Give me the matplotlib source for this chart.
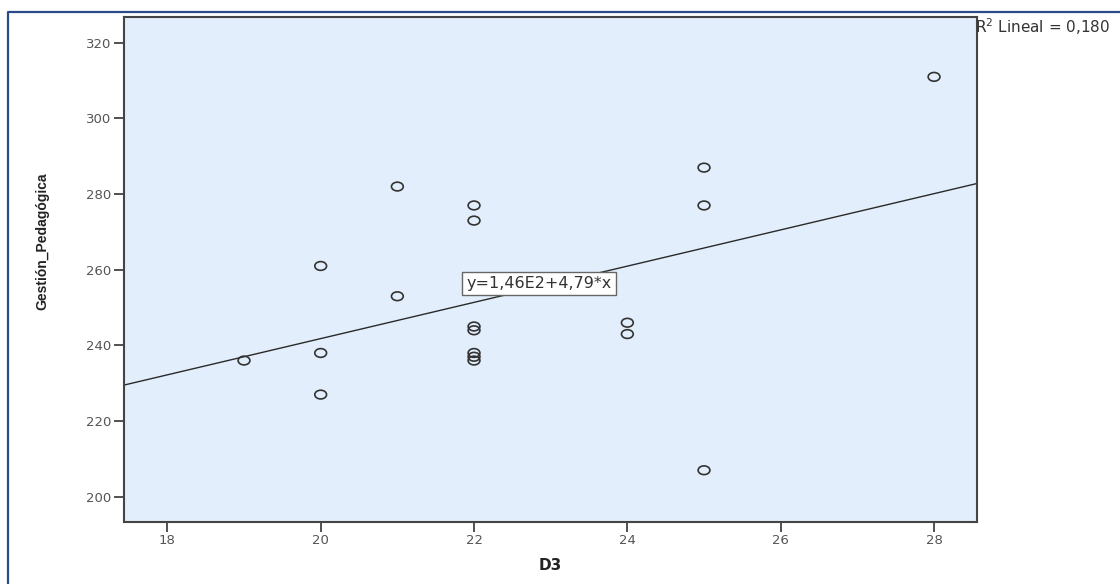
import matplotlib
matplotlib.use("Agg")
import matplotlib.pyplot as plt
import numpy as np
from matplotlib.lines import Line2D
from matplotlib.path import Path
from matplotlib.transforms import Affine2D

# D3 score vs. Gestión_Pedagógica score per respondent
d3 = [19, 20, 20, 20, 21, 21, 22, 22, 22, 22, 22, 22, 22, 24, 24, 25, 25, 25, 28]
gestion = [236, 261, 238, 227, 282, 253, 277, 273, 245, 244, 238, 237, 236,
           246, 243, 287, 277, 207, 311]

# fitted line reported by the stats package
intercept = 146.0
slope = 4.79
r2 = 0.180

x_ticks = [18, 20, 22, 24, 26, 28]
y_ticks = [200, 220, 240, 260, 280, 300, 320]

fig = plt.figure(figsize=(11.2, 5.84), dpi=100)
fig.patch.set_facecolor("white")

# outer frame (left and top edges only are visible)
fig.add_artist(Line2D([8 / 1120, 8 / 1120, 1.0], [0.0, 1 - 12 / 584, 1 - 12 / 584],
                      transform=fig.transFigure, color="#2B4A8B", lw=1.6))

ax = fig.add_axes([0.1104, 0.1067, 0.7619, 0.8647])
ax.set_facecolor("#E2EEFB")
ax.set_xlim(17.43, 28.56)
ax.set_ylim(193.4, 326.9)

# slightly flattened open circle marker
ellipse = Path.unit_circle().transformed(Affine2D().scale(1.35, 1.0))
ax.scatter(d3, gestion, marker=ellipse, s=72, facecolors="none",
           edgecolors="#333333", linewidths=1.2, zorder=3)

xs = np.array(ax.get_xlim())
ax.plot(xs, intercept + slope * xs, color="#2a2a2a", lw=1.0, zorder=2)

eq_label = f"y={intercept / 100:.2f}E2+{slope:.2f}*x".replace(".", ",")
ax.text(21.9, 256.3, eq_label, ha="left", va="center", fontsize=11.5,
        color="#333333", zorder=4,
        bbox=dict(boxstyle="square,pad=0.25", fc="white", ec="#666666", lw=1.0))

ax.set_xticks(x_ticks)
ax.set_yticks(y_ticks)
ax.tick_params(direction="out", length=7, width=1.2, color="#333333",
               labelcolor="#555555", labelsize=9.5, pad=2)
ax.tick_params(top=False, right=False)
for sp in ax.spines.values():
    sp.set_color("#444444")
    sp.set_linewidth(1.5)

ax.set_xlabel("D3", fontsize=11, fontweight="bold", color="#222222")
ax.xaxis.set_label_coords(0.5, -0.072)
ax.set_ylabel("Gestión_Pedagógica", fontsize=10, fontweight="bold",
              color="#222222", family="Liberation Sans")
ax.yaxis.set_label_coords(-0.087, 0.556)

fig.text(975 / 1120, 1 - 27 / 584, f"R$^2$ Lineal = {r2:.3f}".replace(".", ","),
         ha="left", va="center", fontsize=11, color="#333333")

fig.savefig("out.png", dpi=100)
